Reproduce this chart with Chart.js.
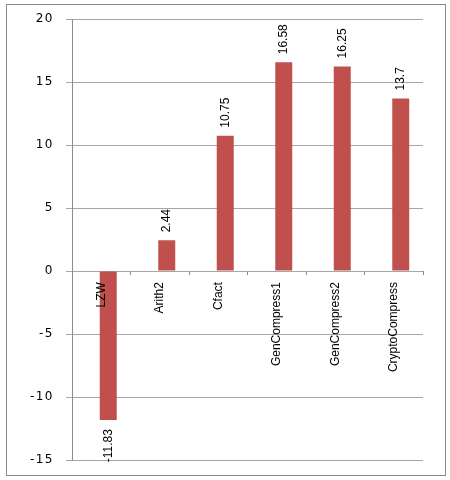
<!DOCTYPE html>
<html>
<head>
<meta charset="utf-8">
<script src="https://cdn.jsdelivr.net/npm/chart.js@4"></script>
<style>
  html, body { margin: 0; padding: 0; background: #fff; }
  #wrap { width: 450px; height: 480px; }
</style>
</head>
<body>
<div id="wrap"><canvas id="chart"></canvas></div>
<script>
const categories = ["LZW", "Arith2", "Cfact", "GenCompress1", "GenCompress2", "CryptoCompress"];
const values = [-11.83, 2.44, 10.75, 16.58, 16.25, 13.7];
const yTicks = [-15, -10, -5, 0, 5, 10, 15, 20];

const labelFont = "'Liberation Sans', Arial, sans-serif";

// frame round the whole chart, and spaced-out y tick labels
const framePlugin = {
  id: "frame",
  beforeDraw(chart) {
    const ctx = chart.ctx;
    ctx.save();
    ctx.strokeStyle = "#8c8c8c";
    ctx.lineWidth = 1;
    ctx.strokeRect(6.5, 4.5, 439, 471);
    ctx.restore();
    ctx.letterSpacing = "1.5px";
  },
  beforeDatasetsDraw(chart) {
    chart.ctx.letterSpacing = "0px";
  }
};

// rotated value labels at the bar ends
const valueLabels = {
  id: "valueLabels",
  afterDatasetsDraw(chart) {
    const ctx = chart.ctx;
    const meta = chart.getDatasetMeta(1);
    meta.data.forEach((bar, i) => {
      const v = values[i];
      ctx.save();
      ctx.translate(bar.x, v >= 0 ? bar.y - 8 : bar.y + 9);
      ctx.rotate(-Math.PI / 2);
      ctx.textAlign = v >= 0 ? "left" : "right";
      ctx.textBaseline = "middle";
      ctx.font = "12px " + labelFont;
      ctx.fillStyle = "#000";
      ctx.fillText(String(v), 0, 0);
      ctx.restore();
    });
  }
};

const ctx = document.getElementById("chart").getContext("2d");
new Chart(ctx, {
  type: "bar",
  data: {
    labels: categories,
    datasets: [
      {
        // empty slot so the real bar sits right of the category centre
        label: "",
        data: [],
        backgroundColor: "rgba(0,0,0,0)",
        categoryPercentage: 0.4786,
        barPercentage: 1.214,
      },
      {
        label: "values",
        data: values,
        backgroundColor: "#C0504D",
        categoryPercentage: 0.4786,
        barPercentage: 1.214,
      },
    ],
  },
  options: {
    responsive: true,
    maintainAspectRatio: false,
    animation: false,
    layout: { padding: { left: 0, top: 19, right: 27, bottom: 20 } },
    plugins: {
      legend: { display: false },
      tooltip: { enabled: false },
    },
    scales: {
      x: {
        position: { y: 0 },
        grid: {
          drawOnChartArea: false,
          drawTicks: true,
          tickLength: 4,
          color: "#8c8c8c",
        },
        border: { display: false },
        ticks: {
          z: 1,
          minRotation: 90,
          maxRotation: 90,
          autoSkip: false,
          padding: 7,
          color: "#000",
          font: { family: labelFont, size: 12 },
        },
      },
      y: {
        min: yTicks[0],
        max: yTicks[yTicks.length - 1],
        afterFit(scale) { scale.width = 72; },
        afterBuildTicks(scale) { scale.ticks = yTicks.map(v => ({ value: v })); },
        grid: {
          color: "#a6a6a6",
          tickLength: 6,
        },
        border: { display: true, color: "#8c8c8c" },
        ticks: {
          padding: 12,
          color: "#000",
          font: { family: "'DejaVu Sans', sans-serif", size: 12 },
        },
      },
    },
  },
  plugins: [framePlugin, valueLabels],
});
</script>
</body>
</html>
